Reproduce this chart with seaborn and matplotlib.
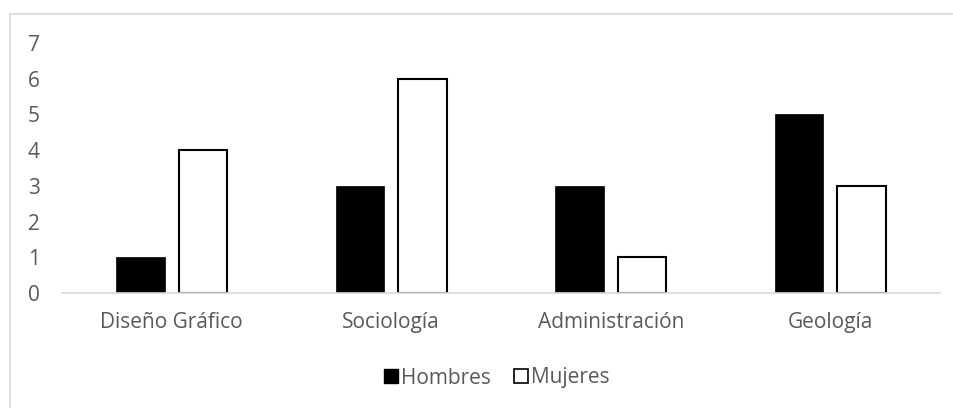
import matplotlib
matplotlib.use("Agg")
import matplotlib.pyplot as plt
import seaborn as sns
import pandas as pd
from matplotlib.lines import Line2D
from matplotlib.patches import Patch

categories = ["Diseño Gráfico", "Sociología", "Administración", "Geología"]
hombres = [1, 3, 3, 5]
mujeres = [4, 6, 1, 3]
series = ["Hombres", "Mujeres"]

df = pd.DataFrame({
    "cat": categories * 2,
    "val": hombres + mujeres,
    "serie": [series[0]] * 4 + [series[1]] * 4,
})

sns.set_theme(style="white")
plt.rcParams["font.family"] = ["Open Sans", "DejaVu Sans"]

W, H = 954, 408
FS = 15
fig = plt.figure(figsize=(W / 100, H / 100), dpi=100)
ax = fig.add_axes([62 / W, (H - 293) / H, (940 - 62) / W, (293 - 43) / H])

sns.barplot(data=df, x="cat", y="val", hue="serie", order=categories,
            hue_order=series, palette={"Hombres": "black", "Mujeres": "white"},
            width=0.57, gap=0.218, ax=ax, legend=False, errorbar=None)

for p in ax.patches:
    p.set_edgecolor("black")
    if p.get_facecolor()[0] > 0.5:
        p.set_linewidth(1.5)
    else:
        p.set_linewidth(0.5)

ax.set_ylim(0, 7)
ax.set_xlim(-0.5, 3.5)
ax.set_yticks(range(0, 8))
ax.set_xlabel("")
ax.set_ylabel("")
for s in ["top", "right", "left"]:
    ax.spines[s].set_visible(False)
ax.spines["bottom"].set_color("#d9d9d9")
ax.spines["bottom"].set_linewidth(1.2)
ax.tick_params(axis="y", length=0, pad=16, labelsize=FS, labelcolor="#595959")
ax.tick_params(axis="x", length=0, pad=14, labelsize=FS, labelcolor="#595959")
ax.grid(False)

handles = [Patch(facecolor="black", edgecolor="black", label="Hombres"),
           Patch(facecolor="white", edgecolor="black", linewidth=1.2, label="Mujeres")]
leg = fig.legend(handles=handles, loc="center", bbox_to_anchor=(497 / W, (H - 378) / H),
                 ncol=2, frameon=False, fontsize=FS, handlelength=0.67, handleheight=0.67,
                 handletextpad=0.15, columnspacing=1.1)
for t in leg.get_texts():
    t.set_color("#595959")

# outer chart border (top and left visible; right/bottom fall outside the image)
fig.add_artist(Line2D([10 / W, 10 / W], [0, (H - 14) / H], transform=fig.transFigure,
                      color="#d9d9d9", linewidth=1.2))
fig.add_artist(Line2D([10 / W, 1], [(H - 14) / H, (H - 14) / H], transform=fig.transFigure,
                      color="#d9d9d9", linewidth=1.2))

fig.savefig("out.png", dpi=100)
